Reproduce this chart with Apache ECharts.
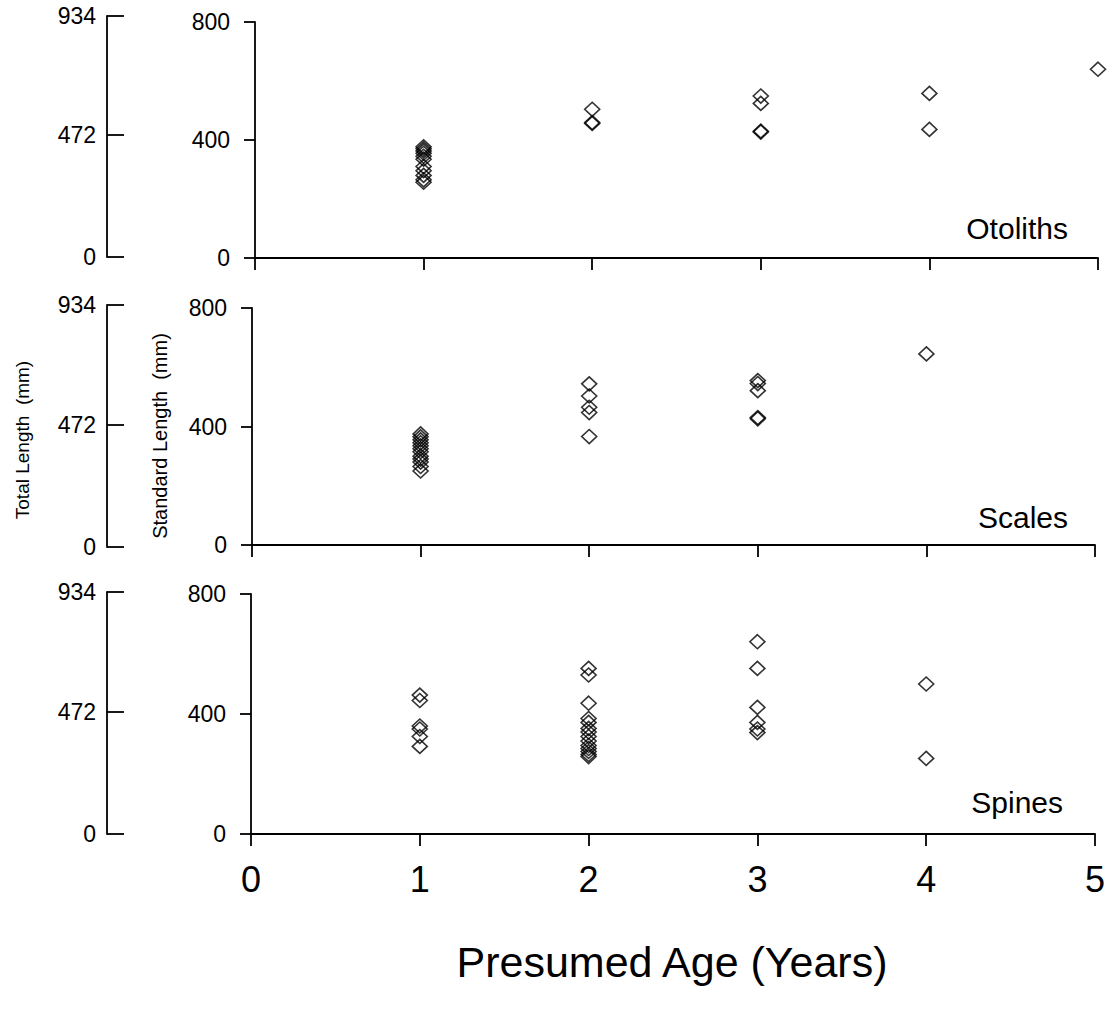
<!DOCTYPE html>
<html><head><meta charset="utf-8">
<script src="https://cdn.jsdelivr.net/npm/echarts@6/dist/echarts.min.js"></script>
<style>html,body{margin:0;padding:0;background:#fff}#c{width:1112px;height:1010px}</style>
</head><body><div id="c"></div>
<script>
// ---- data ----
const panelNames = ["Otoliths", "Scales", "Spines"];
const xTicks = [0, 1, 2, 3, 4, 5];
const slTicks = [0, 400, 800];
const tlTicks = [0, 472, 934];

const otolithAge = [1,1,1,1,1,1,1,1,1,1,1, 2,2,2, 3,3,3,3, 4,4, 5];
const otolithSL  = [377,370,363,355,345,335,310,296,280,265,257, 504,459,456, 549,524,430,427, 558,436, 640];

const scaleAge = [1,1,1,1,1,1,1,1,1,1,1,1, 2,2,2,2,2, 3,3,3,3,3, 4];
const scaleSL  = [375,365,355,345,335,325,315,300,290,280,265,250, 544,503,465,447,366, 555,545,521,430,426, 645];

const spineAge = [1,1,1,1,1,1, 2,2,2,2,2,2,2,2,2,2,2,2,2,2, 3,3,3,3,3,3, 4,4];
const spineSL  = [463,445,360,350,325,292, 552,530,436,385,372,352,340,325,310,295,285,275,265,258, 641,552,422,372,350,338, 500,252];

// ---- layout ----
const FONT = "'Liberation Sans', Arial, sans-serif";
const mainGrids = [
  {left: 255, top: 22, width: 843, height: 236},
  {left: 252, top: 308, width: 843, height: 237},
  {left: 251, top: 594, width: 844, height: 240}
];
const tlGrids = [
  {left: 107, top: 16, width: 10, height: 241},
  {left: 107, top: 305, width: 10, height: 242},
  {left: 107, top: 592, width: 10, height: 242}
];
const panelData = [[otolithAge, otolithSL], [scaleAge, scaleSL], [spineAge, spineSL]];
const labelPos = [[1068, 228], [1068, 517], [1063, 802]];

const axisLine = {show: true, onZero: false, lineStyle: {color: '#000', width: 1.8}};
const grid = [], xAxis = [], yAxis = [], series = [];
for (let i = 0; i < 3; i++) {
  grid.push(Object.assign({containLabel: false}, mainGrids[i]));
  xAxis.push({
    type: 'value', gridIndex: i, min: 0, max: 5, interval: 1,
    axisLine: axisLine,
    axisTick: {show: true, length: 12, lineStyle: {color: '#000', width: 1.8}},
    axisLabel: {show: i === 2, color: '#000', fontSize: 36, fontFamily: FONT, margin: 27},
    splitLine: {show: false}
  });
  yAxis.push({
    type: 'value', gridIndex: i, min: 0, max: 800, interval: 400,
    axisLine: axisLine,
    axisTick: {show: true, length: 11, lineStyle: {color: '#000', width: 1.8}},
    axisLabel: {color: '#000', fontSize: 23, fontFamily: FONT, margin: 25},
    splitLine: {show: false}
  });
  const [ages, vals] = panelData[i];
  series.push({
    type: 'scatter', xAxisIndex: i, yAxisIndex: i, clip: false,
    symbol: 'diamond', symbolSize: [15, 14],
    itemStyle: {color: 'rgba(0,0,0,0)', borderColor: '#000', borderWidth: 1.6},
    data: ages.map((a, k) => [a, vals[k]])
  });
}
for (let i = 0; i < 3; i++) {
  grid.push(Object.assign({containLabel: false}, tlGrids[i]));
  xAxis.push({type: 'value', gridIndex: 3 + i, show: false, min: 0, max: 1});
  yAxis.push({
    type: 'value', gridIndex: 3 + i, min: 0, max: 934,
    axisLine: axisLine,
    axisTick: {show: true, inside: true, length: 17, customValues: tlTicks, lineStyle: {color: '#000', width: 1.8}},
    axisLabel: {color: '#000', fontSize: 23, fontFamily: FONT, margin: 11, customValues: tlTicks},
    splitLine: {show: false}
  });
}

const graphic = [];
for (let i = 0; i < 3; i++) {
  graphic.push({type: 'text', x: labelPos[i][0], y: labelPos[i][1],
    style: {text: panelNames[i], fill: '#000', font: '30px ' + FONT, textAlign: 'right', textVerticalAlign: 'middle'}});
}
graphic.push({type: 'text', x: 672, y: 962,
  style: {text: 'Presumed Age (Years)', fill: '#000', font: '43px ' + FONT, textAlign: 'center', textVerticalAlign: 'middle'}});
graphic.push({type: 'text', x: 22, y: 440, rotation: Math.PI / 2,
  style: {text: 'Total Length  (mm)', fill: '#000', font: '19px ' + FONT, textAlign: 'center', textVerticalAlign: 'middle'}});
graphic.push({type: 'text', x: 160, y: 436, rotation: Math.PI / 2,
  style: {text: 'Standard Length  (mm)', fill: '#000', font: '20px ' + FONT, textAlign: 'center', textVerticalAlign: 'middle'}});

const chart = echarts.init(document.getElementById('c'), null, {renderer: 'svg'});
chart.setOption({animation: false, backgroundColor: '#fff', grid, xAxis, yAxis, series, graphic});
</script></body></html>
